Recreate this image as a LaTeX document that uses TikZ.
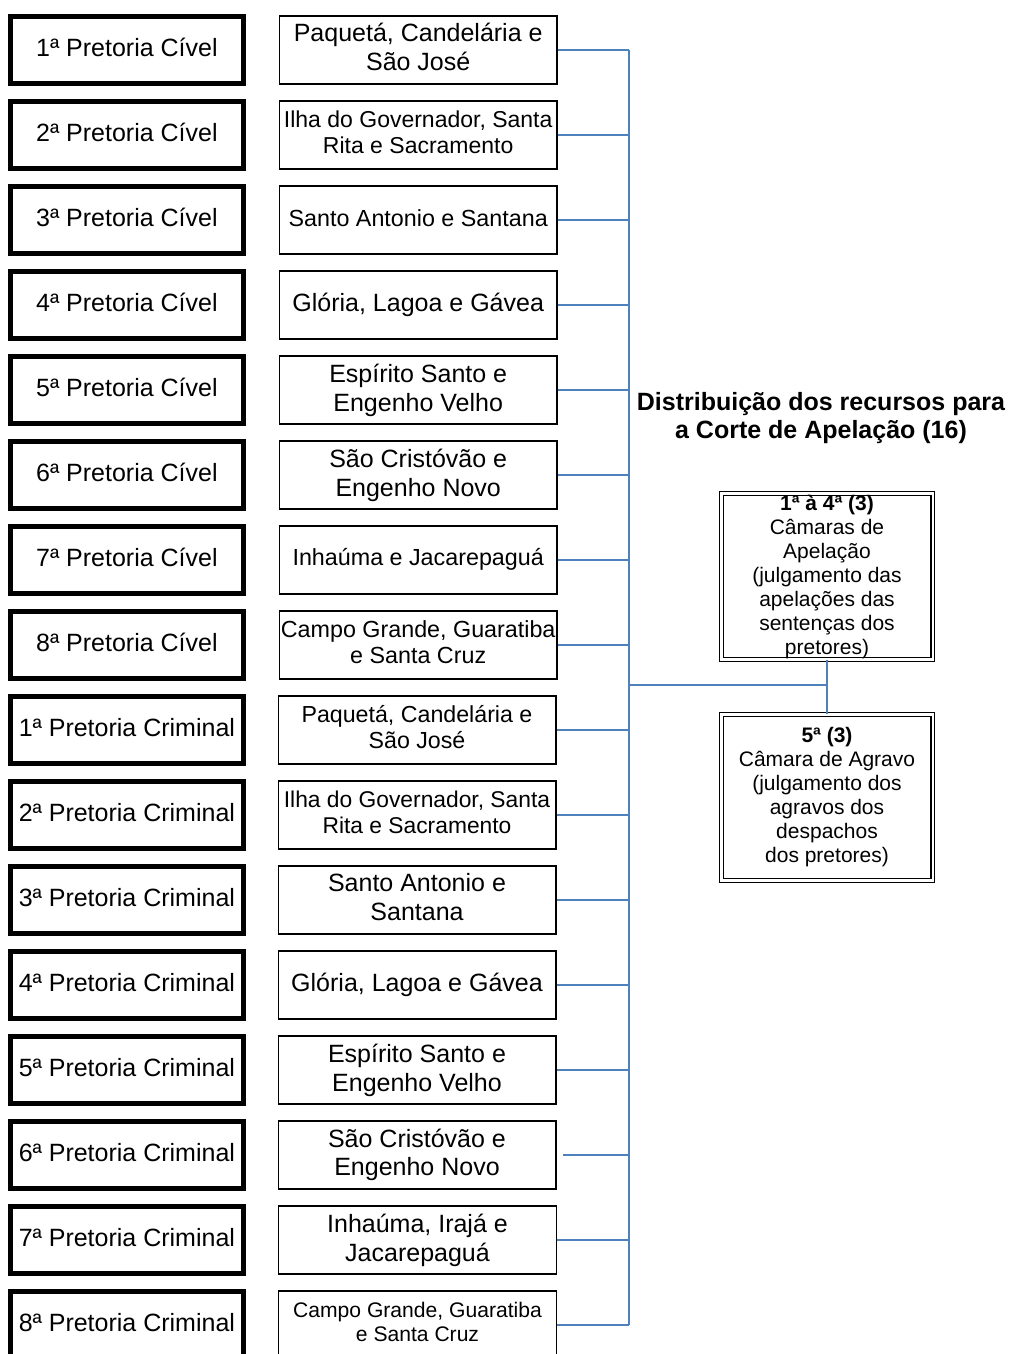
\documentclass[tikz,border=0pt]{standalone}
\usepackage{fontspec}
\setmainfont{Liberation Sans}
\definecolor{linkblue}{HTML}{4F81BD}
\newcommand{\fs}[2]{\fontsize{#1}{#2}\selectfont}
\begin{document}
\begin{tikzpicture}[x=1pt,y=-1pt,
  court/.style={draw, line width=4.7pt, minimum width=232.8pt, minimum height=67.2pt,
    inner sep=0pt, text depth=5.5pt, font=\fs{25}{29}},
  area/.style={draw, line width=1.3pt, minimum width=277.7pt, minimum height=68pt,
    inner sep=0pt, align=center, font=\fs{25}{29}},
  raised/.style={text depth=6pt},
  chamber/.style={draw, double, double distance=2.2pt, line width=1.3pt,
    minimum width=211.2pt, minimum height=166pt, inner sep=0pt, align=center,
    font=\fs{21}{24}},
  link/.style={draw=linkblue, line width=1.5pt}]
\useasboundingbox (0,0) rectangle (1010,1354);

% pretorias
\foreach \i in {1,...,8}{
  \node[court] (c\i) at (126.9,{50+85*(\i-1)}) {\i ª Pretoria Cível};
  \node[court] (k\i) at (126.9,{50+85*(\i+7)}) {\i ª Pretoria Criminal};
}

% districts, civil
\node[area, raised] (m1) at (418.2,50)  {Paquetá, Candelária e\\São José};
\node[area, raised, font=\fs{23}{26}] (m2) at (418.2,135) {Ilha do Governador, Santa\\Rita e Sacramento};
\node[area, font=\fs{23.3}{26}, text depth=4pt] (m3) at (418.2,220) {Santo Antonio e Santana};
\node[area] (m4) at (418.2,305) {Glória, Lagoa e Gávea};
\node[area] (m5) at (418.2,390) {Espírito Santo e\\Engenho Velho};
\node[area] (m6) at (418.2,475) {São Cristóvão e\\Engenho Novo};
\node[area, font=\fs{23.3}{26}, text depth=7pt] (m7) at (418.2,560) {Inhaúma e Jacarepaguá};
\node[area, raised, font=\fs{23.3}{26}] (m8) at (418.2,645) {Campo Grande, Guaratiba\\e Santa Cruz};
% districts, criminal
\node[area, raised, font=\fs{23.2}{26}] (m9) at (417,730) {Paquetá, Candelária e\\São José};
\node[area, raised, font=\fs{22.8}{26}] (m10) at (417,815) {Ilha do Governador, Santa\\Rita e Sacramento};
\node[area, raised] (m11) at (417,900) {Santo Antonio e\\Santana};
\node[area] (m12) at (417,985) {Glória, Lagoa e Gávea};
\node[area] (m13) at (417,1070) {Espírito Santo e\\Engenho Velho};
\node[area, font=\fs{25}{28}] (m14) at (417,1155) {São Cristóvão e\\Engenho Novo};
\node[area] (m15) at (417.5,1240) {Inhaúma, Irajá e\\Jacarepaguá};
\node[area, raised, font=\fs{21.1}{24}] (m16) at (417.5,1325) {Campo Grande, Guaratiba\\e Santa Cruz};

% title
\node[font=\bfseries\fs{25}{28}, align=center] (title) at (821,418)
  {Distribuição dos recursos para\\a Corte de Apelação (16)};

% chambers
\node[chamber] (r1) at (827,576.5) {\textbf{1ª à 4ª (3)}\\Câmaras de\\Apelação\\(julgamento das\\apelações das\\sentenças dos\\pretores)};
\node[chamber] (r2) at (827,797.5) {\textbf{5ª (3)}\\Câmara de Agravo\\(julgamento dos\\agravos dos\\despachos\\dos pretores)};

% connectors
\coordinate (top) at (629,50);
\coordinate (bot) at (629,1325);
\coordinate (join) at (827,685);
\draw[link] (top) -- (bot);
\foreach \j in {1,...,13,15,16}{
  \draw[link] (m\j.east) -- (m\j.east -| top);
}
\draw[link] ([xshift=6.5pt]m14.east) -- (m14.east -| top);
\draw[link] (join -| top) -- (join);
\draw[link] (r1.south) -- (r2.north);
\end{tikzpicture}
\end{document}
